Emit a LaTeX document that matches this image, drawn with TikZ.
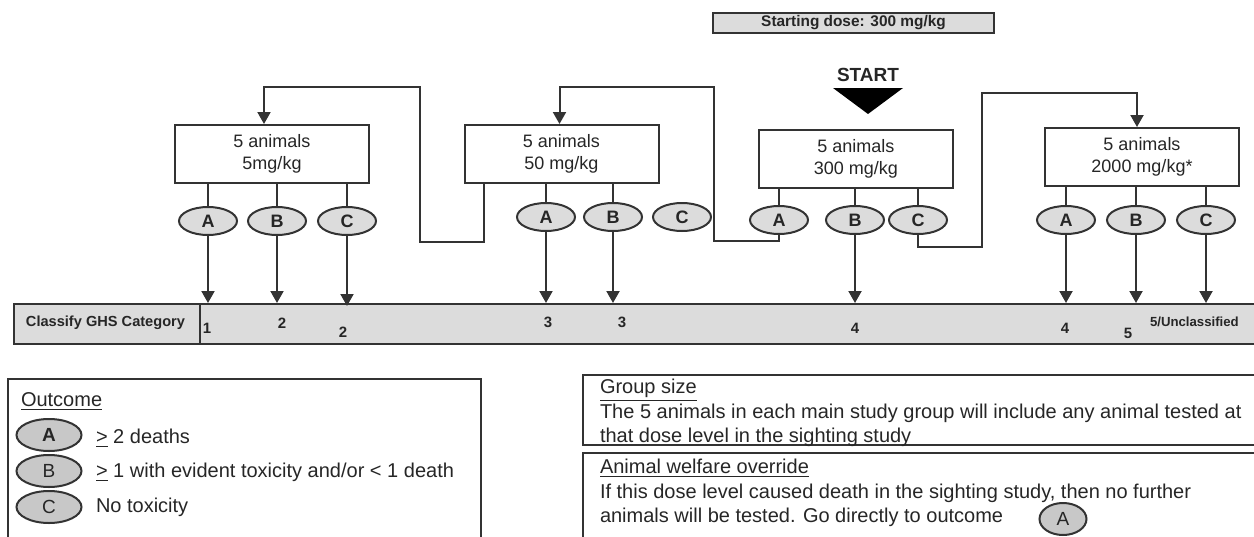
\documentclass[tikz,border=0pt]{standalone}
\usepackage{fontspec}
\setmainfont{Liberation Sans}
\usetikzlibrary{shapes.geometric,arrows.meta}
\definecolor{linegray}{HTML}{333333}
\definecolor{fillgray}{HTML}{DCDCDC}
\definecolor{legendgray}{HTML}{C8C8C8}
\definecolor{textgray}{HTML}{262626}

\begin{document}
\begin{tikzpicture}[x=0.5pt,y=-0.5pt,color=linegray,text=textgray,line width=1pt,
        dosebox/.style={draw,fill=white,minimum width=97pt,minimum height=29pt,inner sep=0pt,align=center,font=\fontsize{9}{11}\selectfont},
        outc/.style={ellipse,draw,fill=fillgray,minimum width=29pt,minimum height=14pt,inner sep=0pt,font=\fontsize{9}{9}\selectfont\bfseries},
        legout/.style={outc,fill=legendgray,minimum width=32.5pt,minimum height=16pt,font=\fontsize{9.5}{9.5}\selectfont},
        catnum/.style={inner sep=0pt,font=\fontsize{7.5}{7.5}\selectfont\bfseries},
        legtext/.style={anchor=west,inner sep=0pt,font=\fontsize{10}{10}\selectfont},
        flow/.style={-{Triangle[width=6.5pt,length=6pt]}}]
            \useasboundingbox (0,0) rectangle (1254,536);

            % starting dose and start marker
            \node[draw,fill=fillgray,minimum width=140.5pt,minimum height=10pt,inner sep=0pt,font=\fontsize{7.7}{7.7}\selectfont\bfseries] (startdose) at (853.5,23) {Starting dose: 300 mg/kg};
            \node[inner sep=0pt,font=\fontsize{9.5}{9.5}\selectfont\bfseries] (start) at (868,75) {START};
            \fill[black] (833,88) -- (903,88) -- (868,114) -- cycle;

            % dose groups
            \node[dosebox] (box5) at (272,154) {5 animals\\5mg/kg};
            \node[dosebox] (box50) at (561.5,154) {5 animals\\50 mg/kg};
            \node[dosebox] (box300) at (856,158.5) {5 animals\\300 mg/kg};
            \node[dosebox] (box2000) at (1142,157) {5 animals\\2000 mg/kg*};

            % outcomes
            \node[outc] (a5) at (208,221) {A};
            \node[outc] (b5) at (277,221) {B};
            \node[outc] (c5) at (347,221) {C};
            \node[outc] (a50) at (546,217) {A};
            \node[outc] (b50) at (613,217) {B};
            \node[outc] (c50) at (682,217) {C};
            \node[outc] (a300) at (779,220) {A};
            \node[outc] (b300) at (855,220) {B};
            \node[outc] (c300) at (918,220) {C};
            \node[outc] (a2000) at (1066,220) {A};
            \node[outc] (b2000) at (1136,220) {B};
            \node[outc] (c2000) at (1206,220) {C};

            \draw (box5.south -| a5) -- (a5);
            \draw (box5.south -| b5) -- (b5);
            \draw (box5.south -| c5) -- (c5);
            \draw (box50.south -| a50) -- (a50);
            \draw (box50.south -| b50) -- (b50);
            \draw (box300.south -| a300) -- (a300);
            \draw (box300.south -| b300) -- (b300);
            \draw (box300.south -| c300) -- (c300);
            \draw (box2000.south -| a2000) -- (a2000);
            \draw (box2000.south -| b2000) -- (b2000);
            \draw (box2000.south -| c2000) -- (c2000);

            % step down / step up
            \draw[flow] ([xshift=10pt]box50.south west) -- ++(0,58) -| (420,87) -| ([xshift=-4pt]box5.north);
            \draw[flow] (a300.south) |- (714,241) -- (714,87) -| ([xshift=-1pt]box50.north);
            \draw[flow] (c300.south) |- (982,247) -- (982,93) -| ([xshift=-2.5pt]box2000.north);

            % classification bar
            \node[draw,fill=fillgray,anchor=north west,minimum width=628.5pt,minimum height=20pt,inner sep=0pt] (bar) at (13,303) {};
            \draw ([xshift=93.5pt,yshift=-1pt]bar.north west) -- ([xshift=93.5pt,yshift=1pt]bar.south west);
            \node[inner sep=0pt,font=\fontsize{7.3}{7.3}\selectfont\bfseries] (classify) at (105.5,323) {Classify GHS Category};

            \draw[flow] (a5) -- (a5 |- bar.north);
            \draw[flow] (b5) -- (b5 |- bar.north);
            \draw[flow] (c5) -- ([yshift=-1.5pt]c5 |- bar.north);
            \draw[flow] (a50) -- (a50 |- bar.north);
            \draw[flow] (b50) -- (b50 |- bar.north);
            \draw[flow] (b300) -- (b300 |- bar.north);
            \draw[flow] (a2000) -- (a2000 |- bar.north);
            \draw[flow] (b2000) -- (b2000 |- bar.north);
            \draw[flow] (c2000) -- (c2000 |- bar.north);

            \node[catnum] (cat1) at (207,328) {1};
            \node[catnum] (cat2a) at (282,323) {2};
            \node[catnum] (cat2b) at (343,332) {2};
            \node[catnum] (cat3a) at (548,322) {3};
            \node[catnum] (cat3b) at (622,322) {3};
            \node[catnum] (cat4a) at (855,328) {4};
            \node[catnum] (cat4b) at (1065,328) {4};
            \node[catnum] (cat5) at (1128,333) {5};
            \node[catnum,anchor=west,font=\fontsize{6.6}{6.6}\selectfont\bfseries] (cat5u) at (1149,322) {5/Unclassified};

            % legend
            \draw (8,560) -- (8,379) -- (481,379) -- (481,560);
            \node[legtext] (outcome) at (20,402) {\underline{Outcome}};
            \node[legout,font=\fontsize{9.5}{9.5}\selectfont\bfseries] (legA) at (49,435) {A};
            \node[legout] (legB) at (49,471) {B};
            \node[legout] (legC) at (49,507) {C};
            \node[legtext] (legAtext) at (95,438) {\underline{>} 2 deaths};
            \node[legtext] (legBtext) at (95,472) {\underline{>} 1 with evident toxicity and/or < 1 death};
            \node[legtext] (legCtext) at (95,507) {No toxicity};

            % notes
            \draw (1270,375) -- (583,375) -- (583,445) -- (1270,445);
            \node[legtext] (groupsize) at (599,390) {\underline{Group size}};
            \node[legtext] (grouptext1) at (599,413) {The 5 animals in each main study group will include any animal tested at};
            \node[legtext] (grouptext2) at (599,437) {that dose level in the sighting study};
            \draw (1270,453) -- (583,453) -- (583,560);
            \node[legtext] (welfare) at (599,468) {\underline{Animal welfare override}};
            \node[legtext] (welfaretext1) at (599,493) {If this dose level caused death in the sighting study, then no further};
            \node[legtext] (welfaretext2) at (599,517) {animals will be tested. Go directly to outcome};
            \node[legout,minimum width=23.5pt] (welfareA) at (1063,519) {A};
\end{tikzpicture}
\end{document}
